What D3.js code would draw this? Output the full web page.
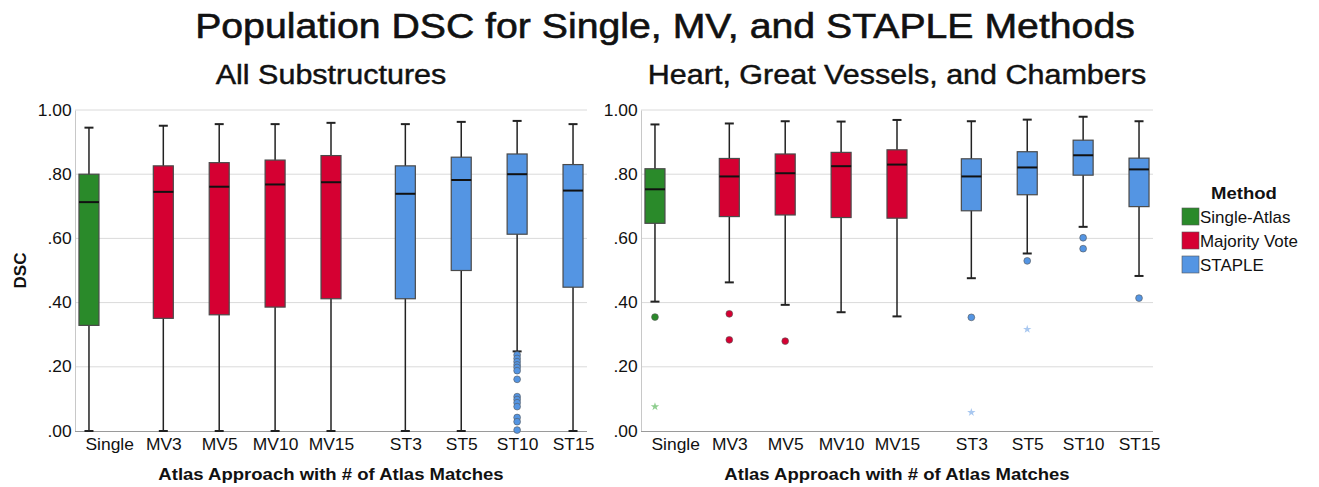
<!DOCTYPE html>
<html>
<head>
<meta charset="utf-8">
<script src="https://cdn.jsdelivr.net/npm/d3@7"></script>
<style>
  body { margin: 0; background: #fff; }
  svg text { font-family: "Liberation Sans", Arial, sans-serif; fill: #111; }
</style>
</head>
<body>
<svg id="chart" width="1319" height="487"></svg>
<script>
// categories and the method group each one belongs to
const categories = ['Single', 'MV3', 'MV5', 'MV10', 'MV15', 'ST3', 'ST5', 'ST10', 'ST15'];
const catGroup = [0, 1, 1, 1, 1, 2, 2, 2, 2];
const methods = ['Single-Atlas', 'Majority Vote', 'STAPLE'];
const methodColors = ['#2a8a2a', '#d50032', '#5495e3'];
const starColors = ['#8fce8f', '#f08aa0', '#a9c8f0'];
const yTicks = [0, 0.2, 0.4, 0.6, 0.8, 1.0];

// All Substructures (box stats)
const allLow  = [0.000, 0.000, 0.000, 0.000, 0.000, 0.000, 0.000, 0.248, 0.000];
const allQ1   = [0.329, 0.351, 0.362, 0.386, 0.412, 0.412, 0.500, 0.613, 0.448];
const allMed  = [0.713, 0.745, 0.761, 0.768, 0.775, 0.739, 0.782, 0.800, 0.749];
const allQ3   = [0.800, 0.826, 0.836, 0.844, 0.858, 0.826, 0.853, 0.863, 0.830];
const allHigh = [0.945, 0.951, 0.956, 0.956, 0.960, 0.956, 0.963, 0.966, 0.956];
const allOutliers = [
  ['ST10', 0.237], ['ST10', 0.226], ['ST10', 0.216], ['ST10', 0.206], ['ST10', 0.198],
  ['ST10', 0.188], ['ST10', 0.161], ['ST10', 0.107], ['ST10', 0.098], ['ST10', 0.088],
  ['ST10', 0.076], ['ST10', 0.042], ['ST10', 0.029], ['ST10', 0.003]
];
const allExtremes = [];

// Heart, Great Vessels, and Chambers
const heartLow  = [0.403, 0.463, 0.393, 0.370, 0.357, 0.476, 0.553, 0.636, 0.483];
const heartQ1   = [0.647, 0.668, 0.673, 0.665, 0.663, 0.686, 0.736, 0.797, 0.699];
const heartMed  = [0.753, 0.793, 0.803, 0.825, 0.830, 0.793, 0.821, 0.859, 0.815];
const heartQ3   = [0.817, 0.849, 0.863, 0.868, 0.876, 0.848, 0.870, 0.906, 0.850];
const heartHigh = [0.955, 0.958, 0.965, 0.964, 0.969, 0.965, 0.970, 0.979, 0.965];
const heartOutliers = [
  ['Single', 0.355], ['MV3', 0.365], ['MV3', 0.284], ['MV5', 0.280],
  ['ST3', 0.354], ['ST5', 0.530], ['ST10', 0.602], ['ST10', 0.568], ['ST15', 0.414]
];
const heartExtremes = [['Single', 0.076], ['ST3', 0.058], ['ST5', 0.317]];

const svg = d3.select('#chart');
const boxW = 20, capW = 9;
// the original picture is a bit wider than tall, text included
const sx = 1.09;

// places a text at (x, y) stretched horizontally by k
const addText = (parent, x, y, str, size, opts = {}) => parent.append('text')
  .attr('transform', `translate(${x},${y}) scale(${opts.k || sx},1)`)
  .attr('text-anchor', opts.anchor || 'middle')
  .style('font-size', size + 'px')
  .style('font-weight', opts.bold ? 'bold' : null)
  .style('stroke', opts.heavy ? '#111' : null)
  .style('stroke-width', opts.heavy ? opts.heavy : null)
  .text(str);

addText(svg, 665, 38, 'Population DSC for Single, MV, and STAPLE Methods', 36, { heavy: 0.6 });

// slot position: category index plus an extra gap between method groups
const slot = i => i + catGroup[i] * 0.33;

const drawPanel = (left, title, low, q1, med, q3, high, outliers, extremes, showYTitle) => {
  const right = left + 512;
  const x = d3.scaleLinear().domain([-0.25, slot(8) + 0.25]).range([left, right]);
  const y = d3.scaleLinear().domain([0, 1]).range([431, 110]);
  const catX = c => x(slot(categories.indexOf(c)));

  const g = svg.append('g');

  addText(g, (left + right) / 2, 84, title, 28, { heavy: 0.45 });

  // gridlines
  g.append('g').selectAll('line')
    .data(yTicks.slice(1))
    .join('line')
    .attr('x1', left).attr('x2', right)
    .attr('y1', d => y(d)).attr('y2', d => y(d))
    .attr('stroke', '#dadada').attr('stroke-width', 1);

  // y axis
  const yAxis = g.append('g')
    .attr('transform', `translate(${left},0)`)
    .call(d3.axisLeft(y).tickValues(yTicks).tickSize(0).tickPadding(3)
      .tickFormat(d => d3.format('.2f')(d).replace(/^0/, '')));
  yAxis.select('.domain').attr('stroke', '#c8c8c8');
  yAxis.selectAll('text').style('font-size', '16px')
    .style('font-family', '"Liberation Sans", Arial, sans-serif').attr('fill', '#111')
    .attr('transform', `scale(${sx},1)`);

  // x axis
  const xAxis = g.append('g')
    .attr('transform', 'translate(0,431)')
    .call(d3.axisBottom(x).tickValues(categories.map((c, i) => slot(i)))
      .tickSize(0).tickPadding(8).tickFormat((d, i) => categories[i]));
  xAxis.select('.domain').attr('stroke', '#9a9a9a').attr('d', `M${left},0.5H${right}`);
  xAxis.selectAll('text').style('font-size', '16px')
    .style('font-family', '"Liberation Sans", Arial, sans-serif').attr('fill', '#111')
    .attr('transform', `scale(${sx},1)`);
  // first label sits clear of the y axis, as in the original
  xAxis.select('.tick text').attr('text-anchor', 'start')
    .attr('x', (left + 10 - x(slot(0))) / sx);

  const rows = categories.map((c, i) => ({
    c, i, low: low[i], q1: q1[i], med: med[i], q3: q3[i], high: high[i]
  }));

  const boxes = g.append('g').selectAll('g').data(rows).join('g')
    .attr('transform', d => `translate(${x(slot(d.i))},0)`);

  boxes.append('line')
    .attr('x1', 0).attr('x2', 0)
    .attr('y1', d => y(d.high)).attr('y2', d => y(d.low))
    .attr('stroke', '#222').attr('stroke-width', 1.5);
  boxes.selectAll('line.cap')
    .data(d => [d.high, d.low])
    .join('line')
    .attr('class', 'cap')
    .attr('x1', -capW / 2).attr('x2', capW / 2)
    .attr('y1', v => y(v)).attr('y2', v => y(v))
    .attr('stroke', '#222').attr('stroke-width', 2);
  boxes.append('rect')
    .attr('x', -boxW / 2).attr('width', boxW)
    .attr('y', d => y(d.q3)).attr('height', d => y(d.q1) - y(d.q3))
    .attr('fill', d => methodColors[catGroup[d.i]])
    .attr('stroke', '#4a4a4a').attr('stroke-width', 1.2);
  boxes.append('line')
    .attr('x1', -boxW / 2).attr('x2', boxW / 2)
    .attr('y1', d => y(d.med)).attr('y2', d => y(d.med))
    .attr('stroke', '#111').attr('stroke-width', 2);

  g.append('g').selectAll('circle')
    .data(outliers)
    .join('circle')
    .attr('cx', d => catX(d[0])).attr('cy', d => y(d[1]))
    .attr('r', 3.4)
    .attr('fill', d => methodColors[catGroup[categories.indexOf(d[0])]])
    .attr('stroke', '#555').attr('stroke-width', 0.6);

  g.append('g').selectAll('path')
    .data(extremes)
    .join('path')
    .attr('transform', d => `translate(${catX(d[0])},${y(d[1])})`)
    .attr('d', d3.symbol(d3.symbolStar, 22))
    .attr('fill', d => starColors[catGroup[categories.indexOf(d[0])]]);

  addText(g, (left + right) / 2, 480, 'Atlas Approach with # of Atlas Matches', 17, { bold: true });

  if (showYTitle) {
    g.append('text')
      .attr('transform', `translate(26,${y(0.5)}) rotate(-90)`)
      .attr('text-anchor', 'middle')
      .style('font-size', '17px').style('font-weight', 'bold')
      .text('DSC');
  }
};

drawPanel(75, 'All Substructures', allLow, allQ1, allMed, allQ3, allHigh, allOutliers, allExtremes, true);
drawPanel(641, 'Heart, Great Vessels, and Chambers', heartLow, heartQ1, heartMed, heartQ3, heartHigh, heartOutliers, heartExtremes, false);

// legend
const legend = svg.append('g').attr('transform', 'translate(1182,0)');
addText(legend, 62, 199, 'Method', 17, { bold: true });
const items = legend.selectAll('g.item').data(methods).join('g')
  .attr('class', 'item')
  .attr('transform', (d, i) => `translate(0,${208 + i * 24})`);
items.append('rect')
  .attr('width', 17).attr('height', 17)
  .attr('fill', (d, i) => methodColors[i])
  .attr('stroke', '#555').attr('stroke-width', 0.6);
items.each(function (d) {
  addText(d3.select(this), 18, 15, d, 16, { anchor: 'start', k: 1.06 });
});
</script>
</body>
</html>
